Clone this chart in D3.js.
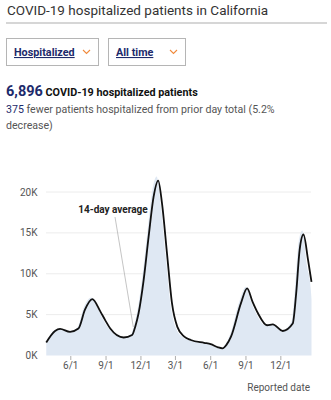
<!DOCTYPE html>
<html><head><meta charset="utf-8">
<script src="https://cdn.jsdelivr.net/npm/d3@7"></script>
<style>
html,body{margin:0;padding:0;background:#fff;}
svg{display:block;font-family:Roboto,"Noto Sans",Arial,sans-serif;}
</style></head>
<body>
<svg id="c" width="331" height="400"></svg>
<script>
// ---- data ----
const lineDates = ["2020-03-29","2020-04-21","2020-05-04","2020-05-30","2020-06-21","2020-07-08","2020-07-27","2020-08-17","2020-08-30","2020-09-12","2020-10-17","2020-11-08","2020-11-16","2020-11-25","2020-12-08","2020-12-21","2021-01-03","2021-01-15","2021-01-25","2021-02-07","2021-02-20","2021-03-06","2021-03-24","2021-04-10","2021-05-15","2021-06-01","2021-06-20","2021-07-02","2021-07-12","2021-07-24","2021-08-19","2021-09-04","2021-09-18","2021-10-02","2021-10-26","2021-11-10","2021-12-06","2022-01-01","2022-01-10","2022-01-19","2022-01-29","2022-02-10","2022-02-19"];
const lineValues = [1600,3000,3250,2900,3300,5600,6900,5400,4300,3300,2200,2500,3500,5200,9200,14500,19400,21400,18600,12500,6400,3500,2300,1900,1550,1400,1000,880,1300,2300,6400,8200,6600,5200,3700,3800,3000,3900,7600,12900,14800,11700,9000];
const areaDates = ["2020-03-29","2020-04-19","2020-05-02","2020-05-28","2020-06-18","2020-07-05","2020-07-24","2020-08-14","2020-08-27","2020-09-10","2020-10-14","2020-11-05","2020-11-13","2020-11-22","2020-12-05","2020-12-18","2020-12-31","2021-01-11","2021-01-22","2021-02-04","2021-02-17","2021-03-03","2021-03-21","2021-04-07","2021-05-12","2021-05-29","2021-06-17","2021-06-29","2021-07-09","2021-07-21","2021-08-16","2021-09-01","2021-09-15","2021-09-29","2021-10-23","2021-11-07","2021-12-03","2021-12-29","2022-01-07","2022-01-16","2022-01-26","2022-02-07","2022-02-17","2022-02-19"];
const areaValues = [1700,3100,3300,2950,3400,5900,7100,5400,4200,3200,2200,2600,3700,5600,9800,15200,20300,21900,18300,12000,6000,3300,2200,1850,1500,1350,950,850,1350,2500,6800,8400,6500,5000,3700,3800,3000,4200,8300,13800,15300,11000,8200,6896];
const yTicks = [0,5000,10000,15000,20000];
const yTickLabels = ["0K","5K","10K","15K","20K"];
const xTickDates = ["2020-06-01","2020-09-01","2020-12-01","2021-03-01","2021-06-01","2021-09-01","2021-12-01"];
const xTickLabels = ["6/1","9/1","12/1","3/1","6/1","9/1","12/1"];
const xDomain = ["2020-03-29","2022-02-19"];

const parse = d3.timeParse("%Y-%m-%d");
const svg = d3.select("#c");
const navy = "#1d2a6b";

// ---- header ----
svg.append("text").attr("x",7).attr("y",15).attr("font-size",13.5).attr("fill","#333")
  .text("COVID-19 hospitalized patients in California");
svg.append("line").attr("x1",6).attr("x2",327).attr("y1",23).attr("y2",23)
  .attr("stroke","#c8c8c8").attr("stroke-width",1.5);

function dropdown(x, w, label){
  const g = svg.append("g");
  g.append("rect").attr("x",x+0.5).attr("y",38.5).attr("width",w).attr("height",27)
    .attr("fill","#fff").attr("stroke","#b5b5b5").attr("stroke-width",1);
  g.append("text").attr("x",x+8).attr("y",56).attr("font-size",10.8).attr("font-weight","bold")
    .attr("fill",navy).attr("text-decoration","underline").text(label);
  return g;
}
const d1 = dropdown(6, 92, "Hospitalized");
d1.append("path").attr("d","M83,50 L86.5,53.5 L90,50").attr("fill","none").attr("stroke","#f08a3c").attr("stroke-width",1.1);
const d2 = dropdown(108, 77, "All time");
d2.append("path").attr("d","M170,50 L173.5,53.5 L177,50").attr("fill","none").attr("stroke","#f08a3c").attr("stroke-width",1.1);

const t1 = svg.append("text").attr("x",6).attr("y",95.5);
t1.append("tspan").attr("font-size",14.5).attr("font-weight","bold").attr("fill",navy).text("6,896");
t1.append("tspan").attr("font-size",10.8).attr("font-weight","bold").attr("fill","#111").text(" COVID-19 hospitalized patients");

const t2 = svg.append("text").attr("x",6).attr("y",113).attr("font-size",10.6).attr("fill","#555");
t2.append("tspan").attr("fill",navy).text("375");
t2.append("tspan").text(" fewer patients hospitalized from prior day total (5.2%");
svg.append("text").attr("x",6).attr("y",128.5).attr("font-size",10.6).attr("fill","#555").text("decrease)");

// ---- chart ----
const x = d3.scaleTime().domain(xDomain.map(parse)).range([46.25, 311.5]);
const y = d3.scaleLinear().domain([0,20000]).range([355.5,192]);

const gGrid = svg.append("g");
yTicks.forEach((v,i)=>{
  if(v>0) gGrid.append("line").attr("x1",46).attr("x2",311).attr("y1",y(v)).attr("y2",y(v))
    .attr("stroke","#ececec").attr("stroke-width",1);
  svg.append("text").attr("x",37.5).attr("y",y(v)+3.5).attr("text-anchor","end")
    .attr("font-size",10).attr("fill","#555").text(yTickLabels[i]);
});

const areaData = areaDates.map((d,i)=>({date:parse(d), v:areaValues[i]}));
const lineData = lineDates.map((d,i)=>({date:parse(d), v:lineValues[i]}));

svg.append("path").datum(areaData)
  .attr("d", d3.area().x(d=>x(d.date)).y0(y(0)).y1(d=>y(d.v)).curve(d3.curveMonotoneX))
  .attr("fill","#dfe8f3");

svg.append("path").datum(lineData)
  .attr("d", d3.line().x(d=>x(d.date)).y(d=>y(d.v)).curve(d3.curveMonotoneX))
  .attr("fill","none").attr("stroke","#111").attr("stroke-width",1.8);

// x axis ticks
xTickDates.forEach((d,i)=>{
  const xx = x(parse(d));
  svg.append("line").attr("x1",xx).attr("x2",xx).attr("y1",356).attr("y2",360)
    .attr("stroke","#999").attr("stroke-width",0.8);
  svg.append("text").attr("x",xx).attr("y",369).attr("text-anchor","middle")
    .attr("font-size",10).attr("fill","#555").text(xTickLabels[i]);
});
svg.append("text").attr("x",310).attr("y",391).attr("text-anchor","end")
  .attr("font-size",10).attr("fill","#555").text("Reported date");

// annotation
svg.append("line").attr("x1",115).attr("y1",217).attr("x2",133.3).attr("y2",327)
  .attr("stroke","#aaa").attr("stroke-width",0.7);
svg.append("text").attr("x",113).attr("y",212.5).attr("text-anchor","middle")
  .attr("font-size",10).attr("font-weight","bold").attr("fill","#222").text("14-day average");
</script>
</body></html>
